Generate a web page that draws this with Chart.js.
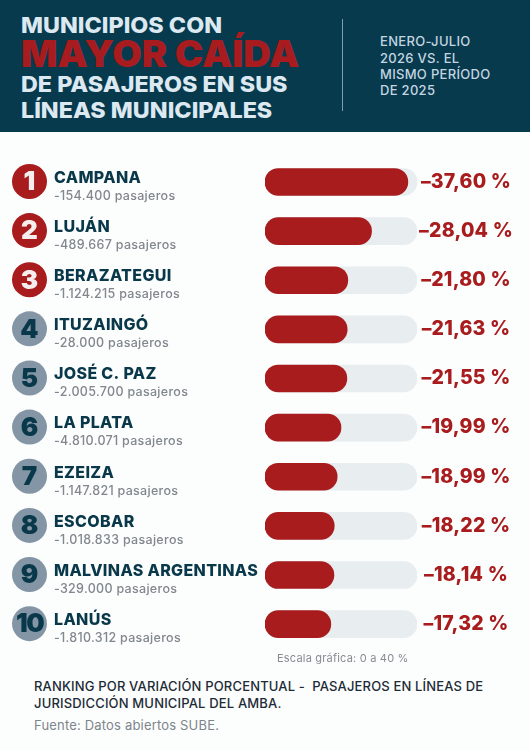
<!DOCTYPE html>
<html>
<head>
<meta charset="utf-8">
<script src="https://cdn.jsdelivr.net/npm/chart.js@4/dist/chart.umd.min.js"></script>
<style>
  html, body { margin: 0; padding: 0; background: #fcfdfd; }
  body { position: relative; width: 530px; height: 750px; overflow: hidden; font-family: Inter, sans-serif; }
  #header { position: absolute; left: 0; top: 0; width: 530px; height: 132px; background: #083a4e; }
  #header div { position: absolute; white-space: nowrap; }
  .t1 { left: 21px; font-size: 22px; font-weight: 800; color: #dce9f1; line-height: 28px; transform-origin: left center; transform: scaleX(1.06); }
  .t2 { left: 21px; top: 34px; font-size: 37px; font-weight: 900; color: #a81c20; line-height: 40px; transform-origin: left center; transform: scaleX(1.03); }
  #rule { left: 342px; top: 19px; width: 1px; height: 92px; background: #7f9dac; }
  .period { left: 380px; font-size: 13px; font-weight: 500; color: #c3d6e0; line-height: 16px; letter-spacing: 0.3px; }
  #chartWrap { position: absolute; left: 0; top: 131px; width: 530px; height: 530px; }
  .foot { position: absolute; left: 34px; white-space: nowrap; }
</style>
</head>
<body>
<div id="header">
  <div class="t1" style="top:11px">MUNICIPIOS CON</div>
  <div class="t2">MAYOR CAÍDA</div>
  <div class="t1" style="top:70px">DE PASAJEROS EN SUS</div>
  <div class="t1" style="top:96px">LÍNEAS MUNICIPALES</div>
  <div id="rule"></div>
  <div class="period" style="top:33px">ENERO-JULIO</div>
  <div class="period" style="top:50px">2026 VS. EL</div>
  <div class="period" style="top:66px">MISMO PERÍODO</div>
  <div class="period" style="top:82px">DE 2025</div>
</div>
<div id="chartWrap"><canvas id="chart"></canvas></div>
<div class="foot" style="left:277px;top:651px;font-size:11px;color:#858c92;letter-spacing:0.2px">Escala gráfica: 0 a 40 %</div>
<div class="foot" style="top:678px;font-size:13px;font-weight:500;color:#1c2b35;letter-spacing:0.16px">RANKING POR VARIACIÓN PORCENTUAL -&nbsp; PASAJEROS EN LÍNEAS DE</div>
<div class="foot" style="top:695px;font-size:13px;font-weight:500;color:#1c2b35;letter-spacing:0.16px">JURISDICCIÓN MUNICIPAL DEL AMBA.</div>
<div class="foot" style="top:717px;font-size:13px;color:#7d858b;letter-spacing:0.18px">Fuente: Datos abiertos SUBE.</div>
<script>
// Ranking data
const municipios = ['CAMPANA', 'LUJÁN', 'BERAZATEGUI', 'ITUZAINGÓ', 'JOSÉ C. PAZ', 'LA PLATA', 'EZEIZA', 'ESCOBAR', 'MALVINAS ARGENTINAS', 'LANÚS'];
const pasajeros = ['-154.400', '-489.667', '-1.124.215', '-28.000', '-2.005.700', '-4.810.071', '-1.147.821', '-1.018.833', '-329.000', '-1.810.312'];
const variacion = [-37.60, -28.04, -21.80, -21.63, -21.55, -19.99, -18.99, -18.22, -18.14, -17.32];
const escala = [-40, -40, -40, -40, -40, -40, -40, -40, -40, -40];

const navy = '#08384a';
const red = '#a81c1e';

// Rank badges, names and percentages, placed from the category scale
const rowLabels = {
  id: 'rowLabels',
  afterDatasetsDraw(chart) {
    const { ctx, scales: { y } } = chart;
    ctx.save();
    ctx.textBaseline = 'middle';
    municipios.forEach((name, i) => {
      const cy = y.getPixelForValue(i);

      ctx.beginPath();
      ctx.arc(29.5, cy - 0.5, 17.5, 0, Math.PI * 2);
      ctx.fillStyle = i < 3 ? red : '#8496a5';
      ctx.fill();

      ctx.textAlign = 'center';
      ctx.fillStyle = i < 3 ? '#f6eeee' : navy;
      ctx.font = '900 26px Inter';
      ctx.letterSpacing = i === 9 ? '-1.5px' : '0px';
      ctx.fillText(String(i + 1), 29.5, cy + 0.5);

      ctx.textAlign = 'left';
      ctx.fillStyle = navy;
      ctx.font = '800 16px Inter';
      ctx.letterSpacing = '0.35px';
      ctx.fillText(name, 54, cy - 4);

      ctx.fillStyle = '#80878d';
      ctx.font = '500 12.5px Inter';
      ctx.letterSpacing = '0.3px';
      ctx.fillText(pasajeros[i] + ' pasajeros', 54, cy + 14);

      ctx.textAlign = 'center';
      ctx.fillStyle = red;
      ctx.font = '800 19.5px Inter';
      ctx.letterSpacing = '0.2px';
      const pct = '–' + Math.abs(variacion[i]).toFixed(2).replace('.', ',') + ' %';
      ctx.fillText(pct, 466, cy);
    });
    ctx.restore();
  }
};

new Chart(document.getElementById('chart'), {
  type: 'bar',
  data: {
    labels: municipios,
    datasets: [
      {
        label: 'Variación',
        data: variacion,
        backgroundColor: red,
        borderRadius: 14,
        borderSkipped: false,
        barThickness: 27,
        order: 1,
      },
      {
        label: 'Escala',
        data: escala,
        backgroundColor: '#e8edf0',
        borderRadius: 14,
        borderSkipped: false,
        barThickness: 27,
        order: 2,
      }
    ]
  },
  options: {
    indexAxis: 'y',
    responsive: true,
    maintainAspectRatio: false,
    animation: false,
    layout: { padding: { left: 265, right: 113, top: 26.4, bottom: 12.3 } },
    plugins: {
      legend: { display: false },
      tooltip: { enabled: false }
    },
    scales: {
      x: { display: false, reverse: true, min: -40, max: 0 },
      y: { display: false, stacked: false }
    },
    datasets: { bar: { grouped: false } }
  },
  plugins: [rowLabels]
});
</script>
</body>
</html>
